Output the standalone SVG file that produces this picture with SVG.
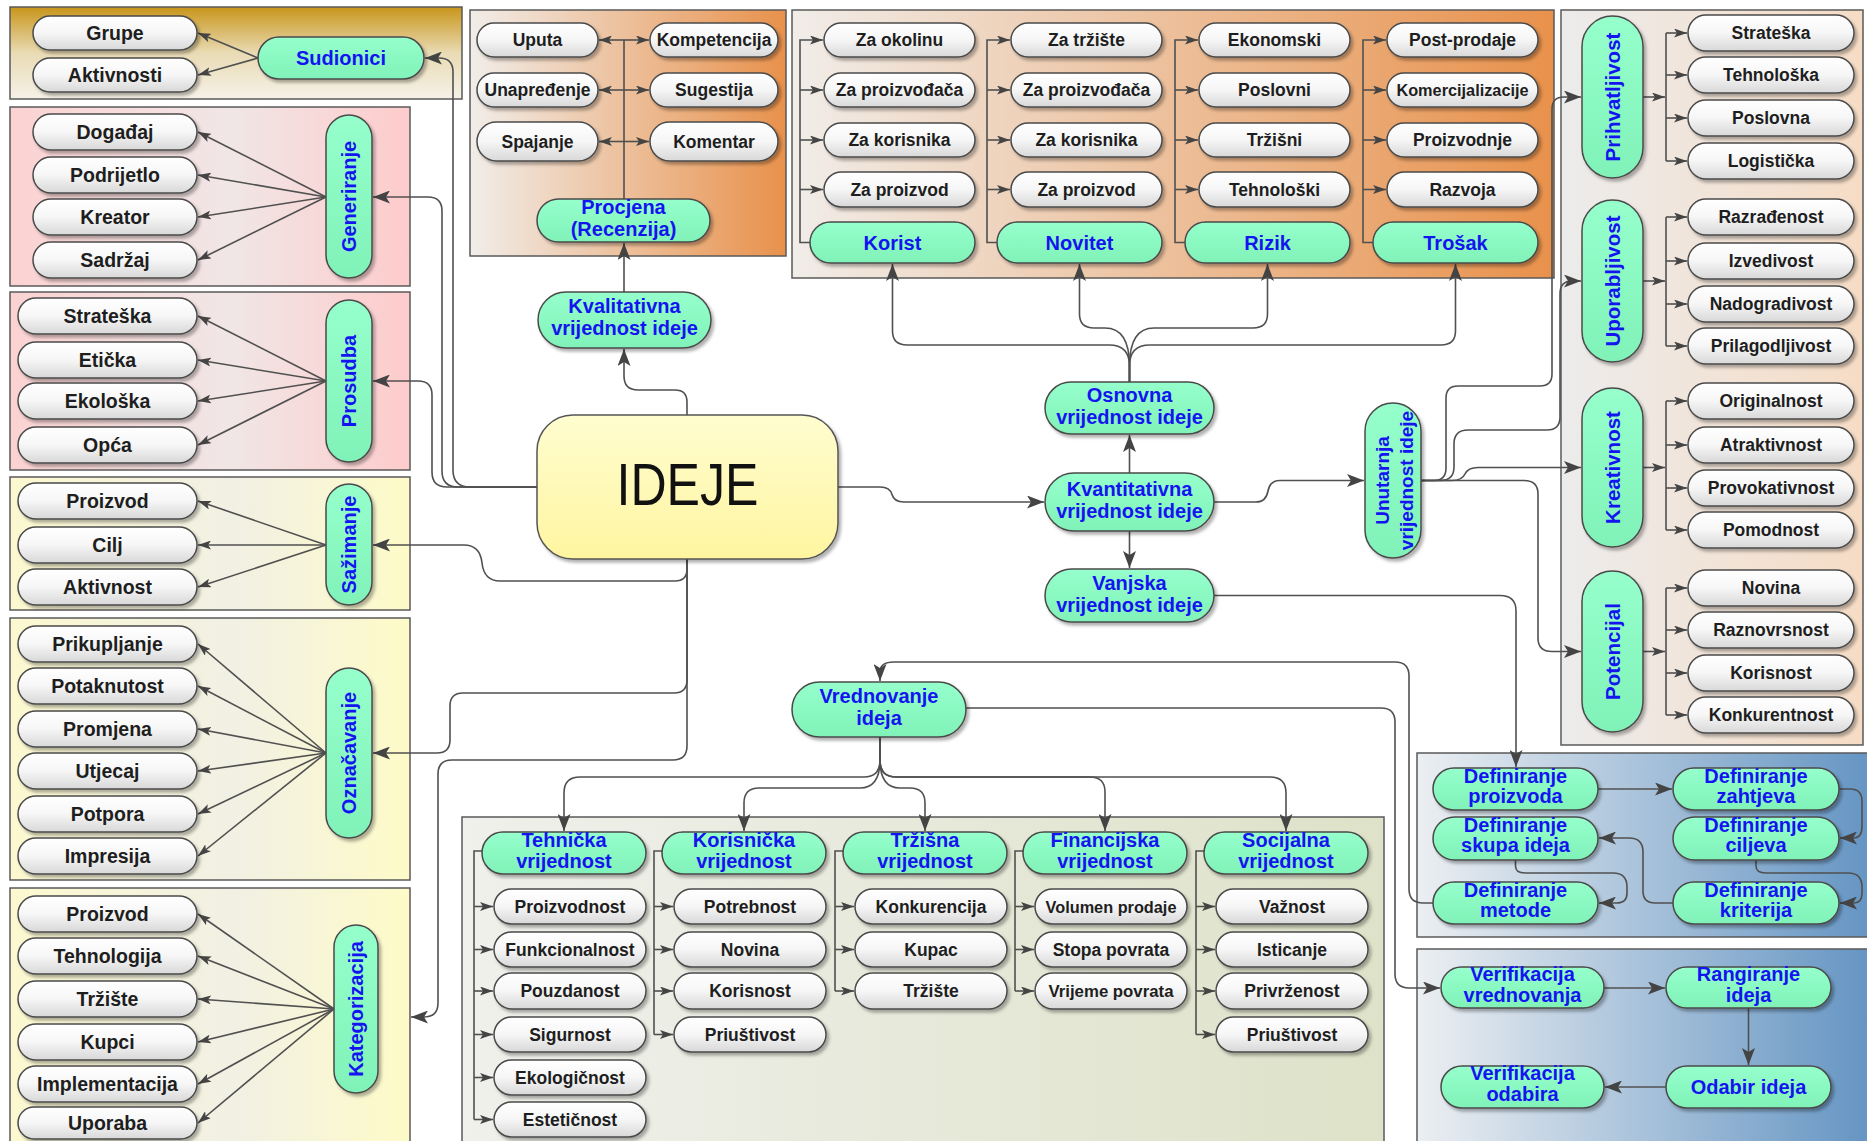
<svg xmlns="http://www.w3.org/2000/svg" width="1867" height="1141" viewBox="0 0 1867 1141">
<defs>
<linearGradient id="gW" x1="0" y1="0" x2="0" y2="1"><stop offset="0" stop-color="#ffffff"/><stop offset="0.5" stop-color="#f6f6f6"/><stop offset="1" stop-color="#d8d8d8"/></linearGradient>
<linearGradient id="gG" x1="0" y1="0" x2="0" y2="1"><stop offset="0" stop-color="#96ffcc"/><stop offset="1" stop-color="#80f2b8"/></linearGradient>
<linearGradient id="gGold" x1="0" y1="0" x2="0" y2="1"><stop offset="0" stop-color="#c8951a"/><stop offset="0.5" stop-color="#e9dbb4"/><stop offset="1" stop-color="#f6f2e8"/></linearGradient>
<linearGradient id="gPink" x1="0" y1="0" x2="1" y2="0"><stop offset="0" stop-color="#fcd2d2"/><stop offset="0.55" stop-color="#f1e6e6"/><stop offset="1" stop-color="#fecbcb"/></linearGradient>
<linearGradient id="gYel" x1="0" y1="0" x2="1" y2="0"><stop offset="0" stop-color="#fcf9d0"/><stop offset="0.55" stop-color="#f1f0e4"/><stop offset="1" stop-color="#fefbc8"/></linearGradient>
<linearGradient id="gOr" x1="0" y1="0" x2="1" y2="0"><stop offset="0" stop-color="#f1ede9"/><stop offset="1" stop-color="#e8914b"/></linearGradient>
<linearGradient id="gPe" x1="0" y1="0" x2="1" y2="0"><stop offset="0" stop-color="#ececec"/><stop offset="1" stop-color="#f6dcc5"/></linearGradient>
<linearGradient id="gOl" x1="0" y1="0" x2="1" y2="0"><stop offset="0" stop-color="#f0f0ec"/><stop offset="1" stop-color="#dee2c8"/></linearGradient>
<linearGradient id="gBl" x1="0" y1="0" x2="1" y2="0"><stop offset="0" stop-color="#eceff2"/><stop offset="1" stop-color="#6595c3"/></linearGradient>
<linearGradient id="gId" x1="0" y1="0" x2="0" y2="1"><stop offset="0" stop-color="#fffdd0"/><stop offset="1" stop-color="#fff5a0"/></linearGradient>
<filter id="sh" x="-10%" y="-10%" width="130%" height="140%"><feDropShadow dx="2.5" dy="3" stdDeviation="1.8" flood-color="#000" flood-opacity="0.3"/></filter>
<marker id="a" markerWidth="13" markerHeight="9" refX="13" refY="4.5" orient="auto" markerUnits="userSpaceOnUse"><path d="M0,0 L13,4.5 L0,9 L3,4.5 z" fill="#444"/></marker>
<marker id="A" markerWidth="17" markerHeight="13" refX="17" refY="6.5" orient="auto" markerUnits="userSpaceOnUse"><path d="M0,0 L17,6.5 L0,13 L4,6.5 z" fill="#444"/></marker>
<style>
.w{fill:url(#gW);stroke:#4a4a4a;stroke-width:1.5;filter:url(#sh)}
.g{fill:url(#gG);stroke:#4a4a4a;stroke-width:1.5;filter:url(#sh)}
.pn{stroke:#5a5a5a;stroke-width:1.5}
.c{fill:none;stroke:#505050;stroke-width:1.6}
.ca{marker-end:url(#a)}
.cA{marker-end:url(#A)}
text{font-family:"Liberation Sans",Arial,Helvetica,sans-serif;font-weight:bold;text-anchor:middle}
.t{font-size:17.5px;fill:#1e1e1e}
.tl{font-size:19.5px;fill:#1e1e1e}
.b{font-size:20px;fill:#1414f0}
.s16{font-size:16.3px}
.s17{font-size:16.8px}
.s19{font-size:19px}
.s205{font-size:20.5px}
.ideje{font-size:60px;font-weight:normal;fill:#111}
</style>
</defs>
<rect width="1867" height="1141" fill="#ffffff"/>

<g id="panels">
<rect class="pn" x="10" y="7" width="452" height="92" fill="url(#gGold)"/>
<rect class="pn" x="10" y="107" width="400" height="179" fill="url(#gPink)"/>
<rect class="pn" x="10" y="292" width="400" height="178" fill="url(#gPink)"/>
<rect class="pn" x="10" y="477" width="400" height="133" fill="url(#gYel)"/>
<rect class="pn" x="10" y="618" width="400" height="262" fill="url(#gYel)"/>
<rect class="pn" x="10" y="888" width="400" height="260" fill="url(#gYel)"/>
<rect class="pn" x="470" y="10" width="316" height="246" fill="url(#gOr)"/>
<rect class="pn" x="792" y="10" width="762" height="268" fill="url(#gOr)"/>
<rect class="pn" x="1561" y="10" width="302" height="735" fill="url(#gPe)"/>
<rect class="pn" x="462" y="817" width="922" height="330" fill="url(#gOl)"/>
<rect class="pn" x="1417" y="753" width="452" height="184" fill="url(#gBl)"/>
<rect class="pn" x="1417" y="949" width="452" height="200" fill="url(#gBl)"/>
</g>

<g id="connectors">
<path class="c ca" d="M258,58 L198,33"/>
<path class="c ca" d="M258,58 L198,75"/>
<path class="c ca" d="M326,197 L198,132"/>
<path class="c ca" d="M326,197 L198,175"/>
<path class="c ca" d="M326,197 L198,217"/>
<path class="c ca" d="M326,197 L198,260"/>
<path class="c ca" d="M326,381 L198,316"/>
<path class="c ca" d="M326,381 L198,360"/>
<path class="c ca" d="M326,381 L198,401"/>
<path class="c ca" d="M326,381 L198,445"/>
<path class="c ca" d="M326,545 L198,501"/>
<path class="c ca" d="M326,545 L198,545"/>
<path class="c ca" d="M326,545 L198,587"/>
<path class="c ca" d="M326,753 L198,644"/>
<path class="c ca" d="M326,753 L198,686"/>
<path class="c ca" d="M326,753 L198,729"/>
<path class="c ca" d="M326,753 L198,771"/>
<path class="c ca" d="M326,753 L198,814"/>
<path class="c ca" d="M326,753 L198,856"/>
<path class="c ca" d="M334,1009 L198,914"/>
<path class="c ca" d="M334,1009 L198,956"/>
<path class="c ca" d="M334,1009 L198,999"/>
<path class="c ca" d="M334,1009 L198,1042"/>
<path class="c ca" d="M334,1009 L198,1084"/>
<path class="c ca" d="M334,1009 L198,1123"/>
<path class="c cA" d="M537,487 H470 Q453,487 453,470 V72 Q453,58 439,58 H425"/>
<path class="c cA" d="M537,487 H458 Q442,487 442,471 V211 Q442,197 428,197 H373"/>
<path class="c cA" d="M537,487 H447 Q432,487 432,472 V395 Q432,381 418,381 H373"/>
<path class="c cA" d="M687,559 V569 Q687,581 675,581 H500 Q484,581 482,563 Q480,545 464,545 H373"/>
<path class="c cA" d="M687,559 V680 Q687,693 674,693 H463 Q450,693 450,706 V740 Q450,753 437,753 H373"/>
<path class="c cA" d="M687,559 V746 Q687,760 673,760 H452 Q438,760 438,774 V1003 Q438,1017 424,1017 H411"/>
<path class="c cA" d="M687,415 V402 Q687,390 675,390 H638 Q624,390 624,376 V349"/>
<path class="c cA" d="M624,292 V243"/>
<path class="c" d="M624,199 V40"/>
<path class="c ca" d="M624,40 H599"/>
<path class="c ca" d="M624,90 H599"/>
<path class="c ca" d="M624,141.5 H599"/>
<path class="c ca" d="M624,40 H649"/>
<path class="c ca" d="M624,90 H649"/>
<path class="c ca" d="M624,141.5 H649"/>
<path class="c ca" d="M810,242.5 H800 V40 H823"/>
<path class="c ca" d="M800,90 H823"/>
<path class="c ca" d="M800,140 H823"/>
<path class="c ca" d="M800,189.5 H823"/>
<path class="c ca" d="M997,242.5 H987 V40 H1010"/>
<path class="c ca" d="M987,90 H1010"/>
<path class="c ca" d="M987,140 H1010"/>
<path class="c ca" d="M987,189.5 H1010"/>
<path class="c ca" d="M1185,242.5 H1175 V40 H1198"/>
<path class="c ca" d="M1175,90 H1198"/>
<path class="c ca" d="M1175,140 H1198"/>
<path class="c ca" d="M1175,189.5 H1198"/>
<path class="c ca" d="M1373,242.5 H1363 V40 H1386"/>
<path class="c ca" d="M1363,90 H1386"/>
<path class="c ca" d="M1363,140 H1386"/>
<path class="c ca" d="M1363,189.5 H1386"/>
<path class="c cA" d="M1129.5,382 V366 Q1129.5,345 1109,345 H907 Q892.5,345 892.5,331 V264"/>
<path class="c cA" d="M1129.5,382 V366 Q1129.5,328 1105,328 H1094 Q1079.5,328 1079.5,314 V264"/>
<path class="c cA" d="M1129.5,382 V366 Q1129.5,328 1154,328 H1253 Q1267.5,328 1267.5,314 V264"/>
<path class="c cA" d="M1129.5,382 V366 Q1129.5,345 1150,345 H1441 Q1455.5,345 1455.5,331 V264"/>
<path class="c cA" d="M838,487 H880 Q890,487 892,494.5 Q894,502 904,502 H1044"/>
<path class="c cA" d="M1129.5,473 V435"/>
<path class="c cA" d="M1129.5,531 V568"/>
<path class="c cA" d="M1214,502 H1256 Q1266,502 1268,491 Q1270,480.5 1280,480.5 H1364"/>
<path class="c cA" d="M1421,480.5 H1434 Q1446,480.5 1446,468 V398 Q1446,386 1458,386 H1540 Q1552,386 1552,374 V109 Q1552,97 1564,97 H1581"/>
<path class="c cA" d="M1421,480.5 H1440 Q1454,480.5 1454,467 V444 Q1454,430 1468,430 H1547 Q1560,430 1560,417 V294 Q1560,281 1572,281 H1581"/>
<path class="c cA" d="M1421,480.5 H1452 Q1462,480.5 1465,474 Q1468,467.5 1478,467.5 H1581"/>
<path class="c cA" d="M1421,480.5 H1524 Q1538,480.5 1538,494 V638 Q1538,651.5 1552,651.5 H1581"/>
<path class="c ca" d="M1643,97 H1665"/>
<path class="c" d="M1666,33 V161"/>
<path class="c ca" d="M1666,33 H1687"/>
<path class="c ca" d="M1666,75 H1687"/>
<path class="c ca" d="M1666,118 H1687"/>
<path class="c ca" d="M1666,161 H1687"/>
<path class="c ca" d="M1643,281 H1665"/>
<path class="c" d="M1666,217 V346"/>
<path class="c ca" d="M1666,217 H1687"/>
<path class="c ca" d="M1666,261 H1687"/>
<path class="c ca" d="M1666,304 H1687"/>
<path class="c ca" d="M1666,346 H1687"/>
<path class="c ca" d="M1643,467.5 H1665"/>
<path class="c" d="M1666,401 V530"/>
<path class="c ca" d="M1666,401 H1687"/>
<path class="c ca" d="M1666,445 H1687"/>
<path class="c ca" d="M1666,488 H1687"/>
<path class="c ca" d="M1666,530 H1687"/>
<path class="c ca" d="M1643,651.5 H1665"/>
<path class="c" d="M1666,588 V715"/>
<path class="c ca" d="M1666,588 H1687"/>
<path class="c ca" d="M1666,630 H1687"/>
<path class="c ca" d="M1666,673 H1687"/>
<path class="c ca" d="M1666,715 H1687"/>
<path class="c cA" d="M1214,595.5 H1500 Q1516,595.5 1516,611 V767"/>
<path class="c cA" d="M880,737 V760 Q880,777 864,777 H580 Q564,777 564,793 V831"/>
<path class="c cA" d="M880,737 V760 Q880,788 860,788 H759 Q744,788 744,803 V831"/>
<path class="c cA" d="M880,737 V760 Q880,788 900,788 H910 Q925,788 925,803 V831"/>
<path class="c cA" d="M880,737 V760 Q880,777 896,777 H1090 Q1105,777 1105,792 V831"/>
<path class="c cA" d="M880,737 V760 Q880,777 896,777 H1270 Q1286,777 1286,793 V831"/>
<path class="c" d="M482,851 H474 V1119.5"/>
<path class="c ca" d="M474,906.5 H493"/>
<path class="c ca" d="M474,949.5 H493"/>
<path class="c ca" d="M474,991 H493"/>
<path class="c ca" d="M474,1034.5 H493"/>
<path class="c ca" d="M474,1077.5 H493"/>
<path class="c ca" d="M474,1119.5 H493"/>
<path class="c" d="M662,851 H654 V1034.5"/>
<path class="c ca" d="M654,906.5 H673"/>
<path class="c ca" d="M654,949.5 H673"/>
<path class="c ca" d="M654,991 H673"/>
<path class="c ca" d="M654,1034.5 H673"/>
<path class="c" d="M843,851 H835 V991"/>
<path class="c ca" d="M835,906.5 H854"/>
<path class="c ca" d="M835,949.5 H854"/>
<path class="c ca" d="M835,991 H854"/>
<path class="c" d="M1023,851 H1015 V991"/>
<path class="c ca" d="M1015,906.5 H1034"/>
<path class="c ca" d="M1015,949.5 H1034"/>
<path class="c ca" d="M1015,991 H1034"/>
<path class="c" d="M1204,851 H1196 V1034.5"/>
<path class="c ca" d="M1196,906.5 H1215"/>
<path class="c ca" d="M1196,949.5 H1215"/>
<path class="c ca" d="M1196,991 H1215"/>
<path class="c ca" d="M1196,1034.5 H1215"/>
<path class="c cA" d="M1598,789 H1672"/>
<path class="c cA" d="M1839,789 H1850 Q1862,789 1862,801 V826 Q1862,838 1854,838 H1840"/>
<path class="c cA" d="M1756,860 V866 Q1756,873 1766,873 H1848 Q1862,873 1862,887 V893 Q1862,903 1854,903 H1840"/>
<path class="c cA" d="M1673,903 H1655 Q1643,903 1643,891 V852 Q1643,838 1629,838 H1599"/>
<path class="c cA" d="M1515.5,860 V866 Q1515.5,873 1525,873 H1613 Q1627,873 1627,887 V893 Q1627,903 1617,903 H1599"/>
<path class="c cA" d="M1433,903 H1423 Q1409,903 1409,889 V676 Q1409,662 1395,662 H894 Q880,662 880,672 V681"/>
<path class="c cA" d="M966,708 H1381 Q1395,708 1395,722 V974 Q1395,988 1409,988 H1440"/>
<path class="c cA" d="M1604,988 H1665"/>
<path class="c cA" d="M1748.5,1008 V1065"/>
<path class="c cA" d="M1666,1087 H1605"/>
</g>

<g id="n-grupe"><rect class="w" x="33" y="16" width="164" height="34" rx="17"/><text class="tl" x="115" y="40">Grupe</text></g>
<g id="n-aktivnosti"><rect class="w" x="33" y="58" width="164" height="34" rx="17"/><text class="tl" x="115" y="82">Aktivnosti</text></g>
<g id="n-sudionici"><rect class="g" x="258" y="37" width="166" height="42" rx="21"/><text class="b" x="341" y="65">Sudionici</text></g>

<g id="n-dogadjaj"><rect class="w" x="33" y="114" width="164" height="36" rx="18"/><text class="tl" x="115" y="139">Događaj</text></g>
<g id="n-podrijetlo"><rect class="w" x="33" y="157" width="164" height="36" rx="18"/><text class="tl" x="115" y="182">Podrijetlo</text></g>
<g id="n-kreator"><rect class="w" x="33" y="199" width="164" height="36" rx="18"/><text class="tl" x="115" y="224">Kreator</text></g>
<g id="n-sadrzaj"><rect class="w" x="33" y="242" width="164" height="36" rx="18"/><text class="tl" x="115" y="267">Sadržaj</text></g>
<g id="n-generiranje"><rect class="g" x="326" y="115" width="46" height="163" rx="23"/><text class="b" transform="translate(356,196.5) rotate(-90)">Generiranje</text></g>

<g id="n-strateska1"><rect class="w" x="18" y="298" width="179" height="36" rx="18"/><text class="tl" x="107.5" y="323">Strateška</text></g>
<g id="n-eticka"><rect class="w" x="18" y="342" width="179" height="36" rx="18"/><text class="tl" x="107.5" y="367">Etička</text></g>
<g id="n-ekoloska"><rect class="w" x="18" y="383" width="179" height="36" rx="18"/><text class="tl" x="107.5" y="408">Ekološka</text></g>
<g id="n-opca"><rect class="w" x="18" y="427" width="179" height="36" rx="18"/><text class="tl" x="107.5" y="452">Opća</text></g>
<g id="n-prosudba"><rect class="g" x="326" y="300" width="46" height="162" rx="23"/><text class="b" transform="translate(356,381) rotate(-90)">Prosudba</text></g>

<g id="n-proizvod1"><rect class="w" x="18" y="483" width="179" height="36" rx="18"/><text class="tl" x="107.5" y="508">Proizvod</text></g>
<g id="n-cilj"><rect class="w" x="18" y="527" width="179" height="36" rx="18"/><text class="tl" x="107.5" y="552">Cilj</text></g>
<g id="n-aktivnost"><rect class="w" x="18" y="569" width="179" height="36" rx="18"/><text class="tl" x="107.5" y="594">Aktivnost</text></g>
<g id="n-sazimanje"><rect class="g" x="326" y="484" width="46" height="121" rx="23"/><text class="b" transform="translate(356,544.5) rotate(-90)">Sažimanje</text></g>

<g id="n-prikupljanje"><rect class="w" x="18" y="626" width="179" height="36" rx="18"/><text class="tl" x="107.5" y="651">Prikupljanje</text></g>
<g id="n-potaknutost"><rect class="w" x="18" y="668" width="179" height="36" rx="18"/><text class="tl" x="107.5" y="693">Potaknutost</text></g>
<g id="n-promjena"><rect class="w" x="18" y="711" width="179" height="36" rx="18"/><text class="tl" x="107.5" y="736">Promjena</text></g>
<g id="n-utjecaj"><rect class="w" x="18" y="753" width="179" height="36" rx="18"/><text class="tl" x="107.5" y="778">Utjecaj</text></g>
<g id="n-potpora"><rect class="w" x="18" y="796" width="179" height="36" rx="18"/><text class="tl" x="107.5" y="821">Potpora</text></g>
<g id="n-impresija"><rect class="w" x="18" y="838" width="179" height="36" rx="18"/><text class="tl" x="107.5" y="863">Impresija</text></g>
<g id="n-oznacavanje"><rect class="g" x="326" y="668" width="46" height="170" rx="23"/><text class="b" transform="translate(356,753) rotate(-90)">Označavanje</text></g>

<g id="n-proizvod2"><rect class="w" x="18" y="896" width="179" height="36" rx="18"/><text class="tl" x="107.5" y="921">Proizvod</text></g>
<g id="n-tehnologija"><rect class="w" x="18" y="938" width="179" height="36" rx="18"/><text class="tl" x="107.5" y="963">Tehnologija</text></g>
<g id="n-trziste1"><rect class="w" x="18" y="981" width="179" height="36" rx="18"/><text class="tl" x="107.5" y="1006">Tržište</text></g>
<g id="n-kupci"><rect class="w" x="18" y="1024" width="179" height="36" rx="18"/><text class="tl" x="107.5" y="1049">Kupci</text></g>
<g id="n-implementacija"><rect class="w" x="18" y="1066" width="179" height="36" rx="18"/><text class="tl" x="107.5" y="1091">Implementacija</text></g>
<g id="n-uporaba"><rect class="w" x="18" y="1107" width="179" height="32" rx="16"/><text class="tl" x="107.5" y="1130">Uporaba</text></g>
<g id="n-kategorizacija"><rect class="g" x="334" y="925" width="44" height="168" rx="22"/><text class="b" transform="translate(363,1009) rotate(-90)">Kategorizacija</text></g>

<g id="n-uputa"><rect class="w" x="477" y="23" width="121" height="34" rx="17"/><text class="t" x="537.5" y="46">Uputa</text></g>
<g id="n-unapredjenje"><rect class="w" x="477" y="73" width="121" height="34" rx="17"/><text class="t" x="537.5" y="96">Unapređenje</text></g>
<g id="n-spajanje"><rect class="w" x="477" y="122" width="121" height="39" rx="19.5"/><text class="t" x="537.5" y="147.5">Spajanje</text></g>
<g id="n-kompetencija"><rect class="w" x="650" y="23" width="128" height="34" rx="17"/><text class="t" x="714" y="46">Kompetencija</text></g>
<g id="n-sugestija"><rect class="w" x="650" y="73" width="128" height="34" rx="17"/><text class="t" x="714" y="96">Sugestija</text></g>
<g id="n-komentar"><rect class="w" x="650" y="122" width="128" height="39" rx="19.5"/><text class="t" x="714" y="147.5">Komentar</text></g>
<g id="n-procjena"><rect class="g" x="537" y="199" width="173" height="43" rx="21.5"/><text class="b" x="623.5" y="214">Procjena</text><text class="b" x="623.5" y="236">(Recenzija)</text></g>
<g id="n-kvalitativna"><rect class="g" x="538" y="292" width="173" height="56" rx="28"/><text class="b" x="624.5" y="313">Kvalitativna</text><text class="b" x="624.5" y="335">vrijednost ideje</text></g>

<g id="n-ideje"><rect x="537" y="415" width="301" height="144" rx="36" fill="url(#gId)" stroke="#555" stroke-width="1.5" filter="url(#sh)"/><text class="ideje" x="687.5" y="505" textLength="142" lengthAdjust="spacingAndGlyphs">IDEJE</text></g>

<g id="n-zaokolinu"><rect class="w" x="824" y="23" width="151" height="34" rx="17"/><text class="t" x="899.5" y="46">Za okolinu</text></g>
<g id="n-zaproizvodjaca1"><rect class="w" x="824" y="73" width="151" height="34" rx="17"/><text class="t" x="899.5" y="96">Za proizvođača</text></g>
<g id="n-zakorisnika1"><rect class="w" x="824" y="123" width="151" height="34" rx="17"/><text class="t" x="899.5" y="146">Za korisnika</text></g>
<g id="n-zaproizvod1"><rect class="w" x="824" y="172" width="151" height="35" rx="17.5"/><text class="t" x="899.5" y="195.5">Za proizvod</text></g>
<g id="n-korist"><rect class="g" x="810" y="222" width="165" height="41" rx="20.5"/><text class="b" x="892.5" y="249.5">Korist</text></g>

<g id="n-zatrziste"><rect class="w" x="1011" y="23" width="151" height="34" rx="17"/><text class="t" x="1086.5" y="46">Za tržište</text></g>
<g id="n-zaproizvodjaca2"><rect class="w" x="1011" y="73" width="151" height="34" rx="17"/><text class="t" x="1086.5" y="96">Za proizvođača</text></g>
<g id="n-zakorisnika2"><rect class="w" x="1011" y="123" width="151" height="34" rx="17"/><text class="t" x="1086.5" y="146">Za korisnika</text></g>
<g id="n-zaproizvod2"><rect class="w" x="1011" y="172" width="151" height="35" rx="17.5"/><text class="t" x="1086.5" y="195.5">Za proizvod</text></g>
<g id="n-novitet"><rect class="g" x="997" y="222" width="165" height="41" rx="20.5"/><text class="b" x="1079.5" y="249.5">Novitet</text></g>

<g id="n-ekonomski"><rect class="w" x="1199" y="23" width="151" height="34" rx="17"/><text class="t" x="1274.5" y="46">Ekonomski</text></g>
<g id="n-poslovni"><rect class="w" x="1199" y="73" width="151" height="34" rx="17"/><text class="t" x="1274.5" y="96">Poslovni</text></g>
<g id="n-trzisni"><rect class="w" x="1199" y="123" width="151" height="34" rx="17"/><text class="t" x="1274.5" y="146">Tržišni</text></g>
<g id="n-tehnoloski"><rect class="w" x="1199" y="172" width="151" height="35" rx="17.5"/><text class="t" x="1274.5" y="195.5">Tehnološki</text></g>
<g id="n-rizik"><rect class="g" x="1185" y="222" width="165" height="41" rx="20.5"/><text class="b" x="1267.5" y="249.5">Rizik</text></g>

<g id="n-postprodaje"><rect class="w" x="1387" y="23" width="151" height="34" rx="17"/><text class="t" x="1462.5" y="46">Post-prodaje</text></g>
<g id="n-komercijalizacije"><rect class="w" x="1387" y="73" width="151" height="34" rx="17"/><text class="t s16" x="1462.5" y="96">Komercijalizacije</text></g>
<g id="n-proizvodnje"><rect class="w" x="1387" y="123" width="151" height="34" rx="17"/><text class="t" x="1462.5" y="146">Proizvodnje</text></g>
<g id="n-razvoja"><rect class="w" x="1387" y="172" width="151" height="35" rx="17.5"/><text class="t" x="1462.5" y="195.5">Razvoja</text></g>
<g id="n-trosak"><rect class="g" x="1373" y="222" width="165" height="41" rx="20.5"/><text class="b" x="1455.5" y="249.5">Trošak</text></g>

<g id="n-osnovna"><rect class="g" x="1045" y="382" width="169" height="52" rx="26"/><text class="b" x="1129.5" y="402">Osnovna</text><text class="b" x="1129.5" y="424">vrijednost ideje</text></g>
<g id="n-kvantitativna"><rect class="g" x="1045" y="473" width="169" height="58" rx="29"/><text class="b" x="1129.5" y="496">Kvantitativna</text><text class="b" x="1129.5" y="518">vrijednost ideje</text></g>
<g id="n-vanjska"><rect class="g" x="1045" y="569" width="169" height="53" rx="26.5"/><text class="b" x="1129.5" y="590">Vanjska</text><text class="b" x="1129.5" y="612">vrijednost ideje</text></g>
<g id="n-unutarnja"><rect class="g" x="1365" y="403" width="56" height="155" rx="28"/><text class="b s19" transform="translate(1389,480.5) rotate(-90)">Unutarnja</text><text class="b s19" transform="translate(1413,480.5) rotate(-90)">vrijednost ideje</text></g>

<g id="n-prihvatljivost"><rect class="g" x="1582" y="16" width="61" height="162" rx="30.5"/><text class="b s205" transform="translate(1620,97) rotate(-90)">Prihvatljivost</text></g>
<g id="n-strateska2"><rect class="w" x="1688" y="15" width="166" height="36" rx="18"/><text class="t" x="1771" y="39">Strateška</text></g>
<g id="n-tehnoloska"><rect class="w" x="1688" y="57" width="166" height="36" rx="18"/><text class="t" x="1771" y="81">Tehnološka</text></g>
<g id="n-poslovna"><rect class="w" x="1688" y="100" width="166" height="36" rx="18"/><text class="t" x="1771" y="124">Poslovna</text></g>
<g id="n-logisticka"><rect class="w" x="1688" y="143" width="166" height="36" rx="18"/><text class="t" x="1771" y="167">Logistička</text></g>

<g id="n-uporabljivost"><rect class="g" x="1582" y="200" width="61" height="162" rx="30.5"/><text class="b s205" transform="translate(1620,281) rotate(-90)">Uporabljivost</text></g>
<g id="n-razradjenost"><rect class="w" x="1688" y="199" width="166" height="36" rx="18"/><text class="t" x="1771" y="223">Razrađenost</text></g>
<g id="n-izvedivost"><rect class="w" x="1688" y="243" width="166" height="36" rx="18"/><text class="t" x="1771" y="267">Izvedivost</text></g>
<g id="n-nadogradivost"><rect class="w" x="1688" y="286" width="166" height="36" rx="18"/><text class="t" x="1771" y="310">Nadogradivost</text></g>
<g id="n-prilagodljivost"><rect class="w" x="1688" y="328" width="166" height="36" rx="18"/><text class="t" x="1771" y="352">Prilagodljivost</text></g>

<g id="n-kreativnost"><rect class="g" x="1582" y="388" width="61" height="159" rx="30.5"/><text class="b s205" transform="translate(1620,467.5) rotate(-90)">Kreativnost</text></g>
<g id="n-originalnost"><rect class="w" x="1688" y="383" width="166" height="36" rx="18"/><text class="t" x="1771" y="407">Originalnost</text></g>
<g id="n-atraktivnost"><rect class="w" x="1688" y="427" width="166" height="36" rx="18"/><text class="t" x="1771" y="451">Atraktivnost</text></g>
<g id="n-provokativnost"><rect class="w" x="1688" y="470" width="166" height="36" rx="18"/><text class="t" x="1771" y="494">Provokativnost</text></g>
<g id="n-pomodnost"><rect class="w" x="1688" y="512" width="166" height="36" rx="18"/><text class="t" x="1771" y="536">Pomodnost</text></g>

<g id="n-potencijal"><rect class="g" x="1582" y="571" width="61" height="161" rx="30.5"/><text class="b s205" transform="translate(1620,651.5) rotate(-90)">Potencijal</text></g>
<g id="n-novina1"><rect class="w" x="1688" y="570" width="166" height="36" rx="18"/><text class="t" x="1771" y="594">Novina</text></g>
<g id="n-raznovrsnost"><rect class="w" x="1688" y="612" width="166" height="36" rx="18"/><text class="t" x="1771" y="636">Raznovrsnost</text></g>
<g id="n-korisnost1"><rect class="w" x="1688" y="655" width="166" height="36" rx="18"/><text class="t" x="1771" y="679">Korisnost</text></g>
<g id="n-konkurentnost"><rect class="w" x="1688" y="697" width="166" height="36" rx="18"/><text class="t" x="1771" y="721">Konkurentnost</text></g>

<g id="n-vrednovanje"><rect class="g" x="792" y="682" width="174" height="55" rx="27.5"/><text class="b" x="879" y="703">Vrednovanje</text><text class="b" x="879" y="725">ideja</text></g>

<g id="n-tehnicka"><rect class="g" x="482" y="832" width="164" height="42" rx="21"/><text class="b" x="564" y="847">Tehnička</text><text class="b" x="564" y="868">vrijednost</text></g>
<g id="n-proizvodnost"><rect class="w" x="494" y="889" width="152" height="35" rx="17.5"/><text class="t" x="570" y="912.5">Proizvodnost</text></g>
<g id="n-funkcionalnost"><rect class="w" x="494" y="932" width="152" height="35" rx="17.5"/><text class="t" x="570" y="955.5">Funkcionalnost</text></g>
<g id="n-pouzdanost"><rect class="w" x="494" y="973" width="152" height="36" rx="18"/><text class="t" x="570" y="997">Pouzdanost</text></g>
<g id="n-sigurnost"><rect class="w" x="494" y="1017" width="152" height="35" rx="17.5"/><text class="t" x="570" y="1040.5">Sigurnost</text></g>
<g id="n-ekologicnost"><rect class="w" x="494" y="1060" width="152" height="35" rx="17.5"/><text class="t" x="570" y="1083.5">Ekologičnost</text></g>
<g id="n-esteticnost"><rect class="w" x="494" y="1102" width="152" height="35" rx="17.5"/><text class="t" x="570" y="1125.5">Estetičnost</text></g>

<g id="n-korisnicka"><rect class="g" x="662" y="832" width="164" height="42" rx="21"/><text class="b" x="744" y="847">Korisnička</text><text class="b" x="744" y="868">vrijednost</text></g>
<g id="n-potrebnost"><rect class="w" x="674" y="889" width="152" height="35" rx="17.5"/><text class="t" x="750" y="912.5">Potrebnost</text></g>
<g id="n-novina2"><rect class="w" x="674" y="932" width="152" height="35" rx="17.5"/><text class="t" x="750" y="955.5">Novina</text></g>
<g id="n-korisnost2"><rect class="w" x="674" y="973" width="152" height="36" rx="18"/><text class="t" x="750" y="997">Korisnost</text></g>
<g id="n-priustivost1"><rect class="w" x="674" y="1017" width="152" height="35" rx="17.5"/><text class="t" x="750" y="1040.5">Priuštivost</text></g>

<g id="n-trzisna"><rect class="g" x="843" y="832" width="164" height="42" rx="21"/><text class="b" x="925" y="847">Tržišna</text><text class="b" x="925" y="868">vrijednost</text></g>
<g id="n-konkurencija"><rect class="w" x="855" y="889" width="152" height="35" rx="17.5"/><text class="t" x="931" y="912.5">Konkurencija</text></g>
<g id="n-kupac"><rect class="w" x="855" y="932" width="152" height="35" rx="17.5"/><text class="t" x="931" y="955.5">Kupac</text></g>
<g id="n-trziste2"><rect class="w" x="855" y="973" width="152" height="36" rx="18"/><text class="t" x="931" y="997">Tržište</text></g>

<g id="n-financijska"><rect class="g" x="1023" y="832" width="164" height="42" rx="21"/><text class="b" x="1105" y="847">Financijska</text><text class="b" x="1105" y="868">vrijednost</text></g>
<g id="n-volumen"><rect class="w" x="1035" y="889" width="152" height="35" rx="17.5"/><text class="t s16" x="1111" y="912.5">Volumen prodaje</text></g>
<g id="n-stopa"><rect class="w" x="1035" y="932" width="152" height="35" rx="17.5"/><text class="t" x="1111" y="955.5">Stopa povrata</text></g>
<g id="n-vrijeme"><rect class="w" x="1035" y="973" width="152" height="36" rx="18"/><text class="t s17" x="1111" y="997">Vrijeme povrata</text></g>

<g id="n-socijalna"><rect class="g" x="1204" y="832" width="164" height="42" rx="21"/><text class="b" x="1286" y="847">Socijalna</text><text class="b" x="1286" y="868">vrijednost</text></g>
<g id="n-vaznost"><rect class="w" x="1216" y="889" width="152" height="35" rx="17.5"/><text class="t" x="1292" y="912.5">Važnost</text></g>
<g id="n-isticanje"><rect class="w" x="1216" y="932" width="152" height="35" rx="17.5"/><text class="t" x="1292" y="955.5">Isticanje</text></g>
<g id="n-privrzenost"><rect class="w" x="1216" y="973" width="152" height="36" rx="18"/><text class="t" x="1292" y="997">Privrženost</text></g>
<g id="n-priustivost2"><rect class="w" x="1216" y="1017" width="152" height="35" rx="17.5"/><text class="t" x="1292" y="1040.5">Priuštivost</text></g>

<g id="n-defproizvoda"><rect class="g" x="1433" y="768" width="165" height="42" rx="21"/><text class="b" x="1515.5" y="783">Definiranje</text><text class="b" x="1515.5" y="803">proizvoda</text></g>
<g id="n-defskupa"><rect class="g" x="1433" y="817" width="165" height="43" rx="21.5"/><text class="b" x="1515.5" y="832">Definiranje</text><text class="b" x="1515.5" y="852">skupa ideja</text></g>
<g id="n-defmetode"><rect class="g" x="1433" y="882" width="165" height="42" rx="21"/><text class="b" x="1515.5" y="897">Definiranje</text><text class="b" x="1515.5" y="917">metode</text></g>
<g id="n-defzahtjeva"><rect class="g" x="1673" y="768" width="166" height="42" rx="21"/><text class="b" x="1756" y="783">Definiranje</text><text class="b" x="1756" y="803">zahtjeva</text></g>
<g id="n-defciljeva"><rect class="g" x="1673" y="817" width="166" height="43" rx="21.5"/><text class="b" x="1756" y="832">Definiranje</text><text class="b" x="1756" y="852">ciljeva</text></g>
<g id="n-defkriterija"><rect class="g" x="1673" y="882" width="166" height="42" rx="21"/><text class="b" x="1756" y="897">Definiranje</text><text class="b" x="1756" y="917">kriterija</text></g>

<g id="n-vervred"><rect class="g" x="1441" y="967" width="163" height="41" rx="20.5"/><text class="b" x="1522.5" y="981">Verifikacija</text><text class="b" x="1522.5" y="1002">vrednovanja</text></g>
<g id="n-rangiranje"><rect class="g" x="1666" y="967" width="165" height="41" rx="20.5"/><text class="b" x="1748.5" y="981">Rangiranje</text><text class="b" x="1748.5" y="1002">ideja</text></g>
<g id="n-verodabira"><rect class="g" x="1441" y="1066" width="163" height="42" rx="21"/><text class="b" x="1522.5" y="1080">Verifikacija</text><text class="b" x="1522.5" y="1101">odabira</text></g>
<g id="n-odabir"><rect class="g" x="1666" y="1066" width="165" height="42" rx="21"/><text class="b" x="1748.5" y="1094">Odabir ideja</text></g>
</svg>
